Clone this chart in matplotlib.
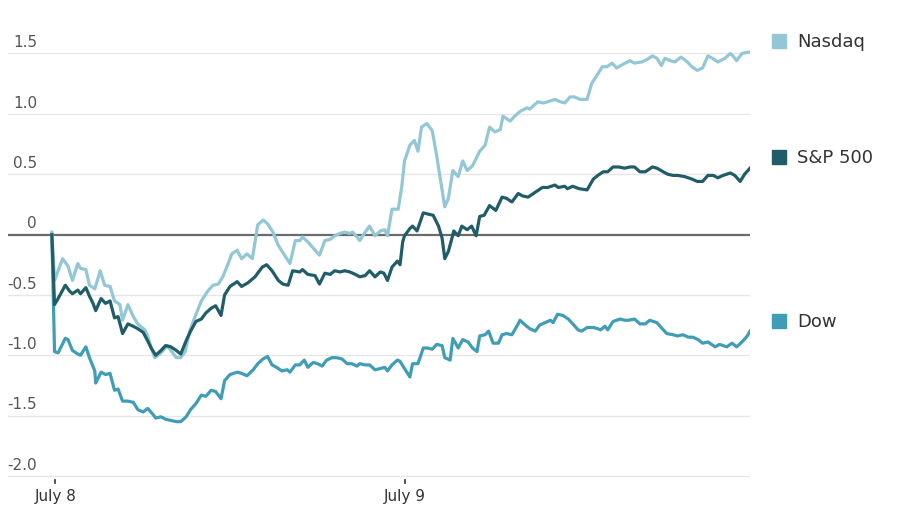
import numpy as np
import matplotlib
matplotlib.use('Agg')
import matplotlib.pyplot as plt
from matplotlib.patches import Rectangle
from matplotlib.transforms import blended_transform_factory

plt.rcParams['font.family'] = ['DejaVu Sans']

#%% Datos (minutos desde la apertura del 8 de julio, variación en %)

nasdaq_t = [0, 3, 12, 18, 23, 29, 32, 38, 42, 48, 54, 59, 65, 70, 76, 79, 85, 91, 96,
            104, 107, 111, 115, 122, 129, 133, 139, 144, 149, 154, 160, 167, 174, 180,
            186, 191, 197, 201, 207, 212, 218, 224, 230, 236, 241, 247, 253, 260, 266,
            272, 277, 280, 286, 294, 299, 305, 311, 316, 322, 327, 333, 336, 341, 344,
            350, 355, 361, 367, 372, 375, 380, 387, 391, 394, 400, 405, 409, 413, 419,
            425, 430, 434, 439, 443, 448, 454, 459, 464, 470, 478, 484, 489, 495, 501,
            504, 512, 517, 523, 531, 534, 543, 549, 554, 562, 568, 573, 579, 584, 590,
            598, 603, 609, 615, 620, 626, 631, 638, 646, 651, 659, 665, 671, 676, 681,
            685, 691, 696, 703, 710, 715, 721, 727, 733, 738, 744, 752, 758, 761, 765,
            771, 777, 780]
nasdaq_v = [0.02, -0.38, -0.20, -0.26, -0.38, -0.24, -0.28, -0.29, -0.42, -0.45, -0.30,
            -0.42, -0.43, -0.55, -0.58, -0.71, -0.58, -0.68, -0.74, -0.79, -0.84, -0.94,
            -1.02, -0.98, -0.92, -0.96, -1.02, -1.02, -0.97, -0.80, -0.68, -0.55, -0.47,
            -0.42, -0.41, -0.35, -0.24, -0.16, -0.13, -0.20, -0.16, -0.20, 0.08, 0.12,
            0.09, 0.02, -0.09, -0.17, -0.24, -0.05, -0.05, -0.02, -0.06, -0.13, -0.17,
            -0.05, -0.04, -0.01, 0.01, 0.02, 0.01, 0.02, -0.02, -0.05, 0.02, 0.07, -0.01,
            0.03, 0.04, -0.01, 0.21, 0.21, 0.40, 0.61, 0.74, 0.78, 0.69, 0.89, 0.92, 0.86,
            0.65, 0.46, 0.23, 0.30, 0.53, 0.48, 0.61, 0.53, 0.57, 0.69, 0.74, 0.89, 0.85,
            0.87, 0.98, 0.94, 0.98, 1.02, 1.05, 1.04, 1.10, 1.09, 1.10, 1.12, 1.10, 1.09,
            1.14, 1.14, 1.12, 1.12, 1.25, 1.32, 1.39, 1.39, 1.42, 1.38, 1.41, 1.44, 1.42,
            1.43, 1.45, 1.48, 1.46, 1.40, 1.46, 1.44, 1.43, 1.47, 1.43, 1.39, 1.36, 1.38,
            1.48, 1.46, 1.43, 1.46, 1.50, 1.48, 1.44, 1.50, 1.51, 1.51]

sp_t = [0, 3, 7, 15, 20, 23, 29, 32, 38, 42, 46, 49, 55, 60, 65, 70, 74, 79, 85, 91,
        96, 102, 107, 111, 116, 122, 127, 133, 139, 144, 150, 155, 161, 167, 172, 178,
        183, 189, 193, 199, 207, 212, 219, 227, 235, 240, 246, 253, 258, 264, 269, 277,
        280, 286, 294, 299, 305, 311, 316, 322, 327, 333, 339, 344, 350, 355, 361, 367,
        371, 375, 380, 386, 389, 392, 394, 400, 403, 408, 415, 420, 426, 432, 436, 439,
        443, 447, 449, 454, 458, 464, 469, 474, 478, 483, 489, 496, 503, 508, 514, 521,
        526, 532, 542, 548, 554, 562, 566, 573, 576, 582, 589, 598, 605, 610, 616, 621,
        627, 633, 640, 646, 651, 657, 663, 671, 676, 683, 688, 694, 699, 707, 715, 721,
        727, 733, 739, 744, 750, 758, 763, 769, 774, 780]
sp_v = [0.0, -0.58, -0.53, -0.42, -0.47, -0.49, -0.46, -0.49, -0.44, -0.51, -0.57,
        -0.63, -0.53, -0.57, -0.55, -0.69, -0.68, -0.82, -0.74, -0.76, -0.78, -0.81,
        -0.88, -0.94, -1.00, -0.96, -0.92, -0.93, -0.96, -0.99, -0.88, -0.80, -0.72,
        -0.70, -0.65, -0.61, -0.59, -0.67, -0.50, -0.43, -0.39, -0.43, -0.40, -0.35,
        -0.27, -0.25, -0.30, -0.38, -0.41, -0.42, -0.30, -0.31, -0.29, -0.33, -0.34,
        -0.41, -0.32, -0.33, -0.30, -0.31, -0.30, -0.31, -0.33, -0.35, -0.34, -0.30,
        -0.35, -0.31, -0.32, -0.38, -0.27, -0.22, -0.25, -0.06, -0.01, 0.05, 0.07, 0.03,
        0.18, 0.17, 0.16, 0.07, -0.03, -0.20, -0.14, -0.03, 0.03, -0.01, 0.07, 0.04,
        0.07, -0.01, 0.15, 0.16, 0.24, 0.20, 0.31, 0.30, 0.27, 0.34, 0.32, 0.31, 0.36,
        0.39, 0.39, 0.41, 0.39, 0.40, 0.38, 0.40, 0.38, 0.37, 0.46, 0.49, 0.52, 0.52,
        0.56, 0.56, 0.55, 0.56, 0.56, 0.52, 0.52, 0.56, 0.55, 0.52, 0.50, 0.49, 0.49,
        0.48, 0.46, 0.44, 0.44, 0.49, 0.49, 0.47, 0.49, 0.51, 0.49, 0.44, 0.50, 0.55]

dow_t = [0, 3, 7, 15, 18, 23, 29, 32, 38, 42, 48, 49, 55, 60, 65, 70, 74, 79, 85, 91,
         96, 102, 107, 113, 116, 122, 127, 133, 139, 144, 150, 155, 161, 167, 172, 178,
         183, 189, 193, 199, 207, 212, 218, 225, 230, 236, 241, 246, 251, 257, 263, 266,
         272, 277, 282, 286, 292, 297, 302, 307, 313, 318, 324, 330, 335, 341, 344, 350,
         355, 361, 367, 372, 375, 380, 386, 389, 394, 400, 403, 409, 415, 420, 425, 430,
         436, 439, 445, 448, 454, 459, 465, 470, 475, 478, 484, 488, 493, 499, 503, 508,
         514, 521, 523, 529, 534, 540, 545, 551, 557, 560, 565, 571, 577, 582, 588, 592,
         598, 605, 610, 613, 618, 621, 627, 635, 640, 644, 651, 657, 663, 668, 676, 682,
         687, 694, 699, 705, 711, 716, 722, 727, 733, 741, 746, 754, 760, 765, 771, 777,
         780]
dow_v = [0.0, -0.97, -0.98, -0.86, -0.87, -0.96, -0.99, -1.00, -0.93, -1.02, -1.13,
         -1.23, -1.14, -1.16, -1.15, -1.29, -1.28, -1.38, -1.38, -1.39, -1.45, -1.47,
         -1.44, -1.49, -1.52, -1.51, -1.53, -1.54, -1.55, -1.55, -1.51, -1.45, -1.40,
         -1.33, -1.34, -1.29, -1.30, -1.36, -1.21, -1.16, -1.14, -1.15, -1.17, -1.12,
         -1.07, -1.03, -1.01, -1.08, -1.10, -1.13, -1.12, -1.14, -1.08, -1.08, -1.04,
         -1.10, -1.06, -1.07, -1.09, -1.04, -1.02, -1.02, -1.03, -1.07, -1.07, -1.09,
         -1.07, -1.08, -1.08, -1.12, -1.11, -1.10, -1.13, -1.08, -1.04, -1.05, -1.11,
         -1.18, -1.07, -1.07, -0.94, -0.94, -0.95, -0.91, -0.92, -1.02, -1.04, -0.86,
         -0.94, -0.87, -0.89, -0.94, -0.97, -0.84, -0.83, -0.80, -0.90, -0.90, -0.83,
         -0.82, -0.83, -0.74, -0.71, -0.75, -0.78, -0.80, -0.75, -0.73, -0.71, -0.73,
         -0.66, -0.67, -0.70, -0.74, -0.79, -0.80, -0.77, -0.77, -0.78, -0.79, -0.76,
         -0.79, -0.72, -0.70, -0.71, -0.71, -0.70, -0.74, -0.74, -0.71, -0.73, -0.78,
         -0.82, -0.83, -0.84, -0.83, -0.85, -0.85, -0.87, -0.90, -0.89, -0.93, -0.91,
         -0.93, -0.90, -0.93, -0.89, -0.84, -0.80]

series = ['Nasdaq', 'S&P 500', 'Dow']
colores = ['#93c7d6', '#215d69', '#3f9db6']
ticks_y = [1.5, 1.0, 0.5, 0, -0.5, -1.0, -1.5, -2.0]
etiquetas_y = ['1.5', '1.0', '0.5', '0', '-0.5', '-1.0', '-1.5', '-2.0']
ticks_x = [4, 394]
etiquetas_x = ['July 8', 'July 9']
legend_y = [1.60, 0.645, -0.72]

#%% Figura

fig = plt.figure(figsize=(9, 5.1), dpi=100)
ax = fig.add_axes([8/900, 29.4/510, 742/900, 440.6/510])
ax.set_xlim(-49, 780)
ax.set_ylim(-2.03, 1.62)
for s in ax.spines.values():
    s.set_visible(False)
ax.set_yticks([])
ax.set_xticks([])

for v in ticks_y:
    if v == 0:
        ax.axhline(0, color='#6b6b6b', lw=1.6, zorder=3)
    else:
        ax.axhline(v, color='#e6e6e6', lw=1.0, zorder=1)

tr = blended_transform_factory(ax.transAxes, ax.transData)
for v, lab in zip(ticks_y, etiquetas_y):
    ax.annotate(lab, (0.039, v), xycoords=tr, xytext=(0, 3), textcoords='offset points',
                ha='right', va='bottom', fontsize=11, color='#555555')

ax.plot(dow_t, dow_v, color=colores[2], lw=2.3, zorder=4, solid_joinstyle='round')
ax.plot(sp_t, sp_v, color=colores[1], lw=2.3, zorder=5, solid_joinstyle='round')
ax.plot(nasdaq_t, nasdaq_v, color=colores[0], lw=2.3, zorder=4, solid_joinstyle='round')

for t, lab in zip(ticks_x, etiquetas_x):
    ax.plot([t, t], [-2.03, -2.06], color='#333333', lw=1.2, clip_on=False)
    ax.annotate(lab, (t, -2.03), xytext=(0, -6), textcoords='offset points',
                ha='center', va='top', fontsize=11, color='#333333', annotation_clip=False)

# leyenda a la derecha
for nombre, col, yv in zip(series, colores, legend_y):
    y_fig = fig.transFigure.inverted().transform(ax.transData.transform((0, yv)))[1]
    fig.patches.append(Rectangle((772/900, y_fig - 7/510), 14/900, 14/510,
                                 transform=fig.transFigure, color=col))
    fig.text(797/900, y_fig, nombre, ha='left', va='center', fontsize=13,
             color='#333333')

fig.savefig('out.png', dpi=100)
